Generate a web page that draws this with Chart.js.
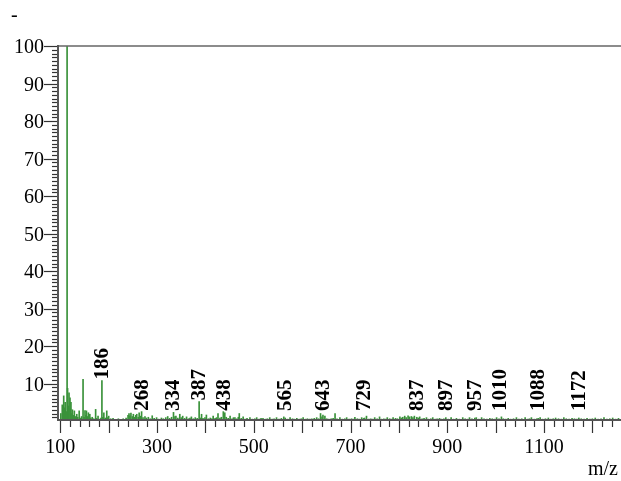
<!DOCTYPE html>
<html><head><meta charset="utf-8">
<script src="https://cdn.jsdelivr.net/npm/chart.js@4"></script>
<style>html,body{margin:0;padding:0;background:#fff}#wrap{width:621px;height:481px;position:relative}</style>
</head><body><div id="wrap"><canvas id="c" width="621" height="481"></canvas></div>
<script>
const mz = [
 101,104,106,107,109,110,112,114,115,117,
 118,120,121,122,124,125,127,129,131,134,
 136,139,141,144,147,149,151,153,154,156,
 158,161,163,166,169,173,175,178,181,184,
 186,188,190,193,196,198,200,204,209,214,
 220,226,230,236,240,242,244,246,249,251,
 254,256,258,261,263,266,268,271,275,278,
 282,286,290,294,299,303,309,313,318,322,
 326,330,334,337,339,343,347,350,353,357,
 361,365,368,371,375,379,383,387,390,392,
 395,399,402,406,410,413,416,420,423,426,
 430,433,437,440,443,447,451,455,458,461,
 465,468,470,474,478,482,486,492,497,502,
 506,511,515,519,524,528,533,538,542,547,
 552,557,562,565,570,575,580,584,589,594,
 598,602,607,611,616,620,625,630,634,638,
 641,643,647,651,655,660,664,668,672,678,
 683,688,692,697,702,706,709,714,718,723,
 727,729,733,738,742,746,750,755,760,764,
 769,773,776,781,785,788,793,797,802,805,
 808,812,815,819,822,826,829,832,837,840,
 843,848,852,857,861,866,870,875,879,884,
 888,893,897,902,908,913,919,925,932,937,
 942,946,951,957,960,965,971,976,982,988,
 993,998,1002,1007,1012,1016,1021,1026,1031,1037,
 1043,1048,1054,1061,1066,1070,1074,1080,1085,1088,
 1092,1097,1103,1109,1114,1119,1124,1130,1136,1141,
 1146,1152,1158,1163,1168,1172,1177,1183,1189,1195,
 1200,1206,1212,1218,1224,1230,1236,1242,1248,1254
];
const intensity = [
 2.0,4.3,3.0,6.7,3.5,5.0,2.5,100,8.7,4.0,
 7.5,6.2,3.2,5.0,2.0,3.0,1.5,2.7,1.2,1.8,
 1.0,2.7,0.8,1.2,11.1,1.0,2.8,1.5,2.7,1.2,
 2.2,1.8,0.8,1.0,0.6,3.1,0.7,1.3,0.5,0.8,
 10.8,1.0,2.2,0.8,2.7,0.9,1.3,0.6,0.7,0.4,
 0.6,0.4,0.6,0.8,1.5,2.0,1.4,2.1,1.2,1.8,
 1.0,1.5,1.8,1.0,2.2,1.3,2.5,0.9,1.2,0.8,
 1.0,0.6,1.4,0.7,0.9,0.5,0.8,0.6,0.9,1.2,
 0.7,1.0,2.3,1.2,1.3,0.8,1.8,0.9,1.3,0.7,
 1.1,0.6,0.8,1.1,0.6,0.9,0.7,5.2,0.8,1.8,
 0.7,0.9,1.6,0.6,0.8,0.6,1.3,0.7,0.9,2.0,
 0.8,1.0,2.5,2.2,1.0,0.7,1.3,0.6,0.9,0.9,
 0.6,1.0,2.0,0.7,1.1,0.5,0.7,0.9,0.5,0.6,
 0.9,0.5,0.7,0.7,0.5,0.6,0.9,0.5,0.6,0.9,
 0.5,0.7,1.1,0.8,0.5,0.9,0.6,0.5,0.7,0.5,
 0.6,0.9,0.5,0.6,0.5,0.6,0.7,0.9,0.6,2.0,
 1.1,1.6,1.3,0.6,0.5,0.6,0.7,2.0,0.6,0.9,
 0.5,0.6,0.9,0.5,0.6,0.5,1.0,0.6,0.5,0.9,
 0.7,0.8,1.3,0.5,0.6,0.5,0.9,0.6,1.1,0.5,
 0.6,0.5,0.9,0.6,0.5,0.9,0.7,0.6,1.1,0.8,
 1.0,1.3,0.9,1.4,1.1,1.2,0.9,1.3,1.0,0.8,
 1.1,0.6,0.7,0.9,0.5,0.6,0.9,0.5,0.6,0.7,
 0.5,0.6,0.9,0.5,0.9,0.5,0.7,0.5,0.9,0.6,
 0.5,0.9,0.6,0.8,0.9,0.5,0.9,0.6,0.5,0.7,
 0.6,0.5,0.9,0.6,1.1,0.6,0.5,0.7,0.5,0.6,
 0.9,0.5,0.6,0.9,0.5,0.6,0.9,0.5,0.6,0.7,
 0.9,0.5,0.6,0.8,0.5,0.6,0.8,0.6,0.5,0.9,
 0.6,0.5,0.7,0.6,0.5,0.8,0.6,0.5,0.7,0.5,
 0.6,0.8,0.5,0.6,0.9,0.5,0.6,0.8,0.5,0.7
];
const peakLabels = [186,268,334,387,438,565,643,729,837,897,957,1010,1088,1172];
const yTickLabels = [10,20,30,40,50,60,70,80,90,100];
const xTickLabels = [100,300,500,700,900,1100];
const xAxisTitle = 'm/z';
const cornerMark = '-';

const X_MIN = 95.2, X_MAX = 1259.2;
const FONT = '"Liberation Serif", "Times New Roman", serif';

const axesPlugin = {
  id: 'msAxes',
  afterDatasetsDraw(chart) {
    const ctx = chart.ctx, xs = chart.scales.x, ys = chart.scales.y, a = chart.chartArea;
    ctx.save();
    ctx.strokeStyle = '#666';
    ctx.lineWidth = 1.6;
    ctx.beginPath(); ctx.moveTo(a.left, a.top); ctx.lineTo(621, a.top); ctx.stroke();
    ctx.strokeStyle = '#555';
    ctx.lineWidth = 2;
    ctx.beginPath(); ctx.moveTo(a.left, a.top - 1); ctx.lineTo(a.left, a.bottom); ctx.stroke();
    ctx.beginPath(); ctx.moveTo(a.left - 1, a.bottom - 1); ctx.lineTo(621, a.bottom - 1); ctx.stroke();
    ctx.strokeStyle = '#333';
    ctx.lineWidth = 1.2;
    for (let v = 1; v <= 100; v++) {
      const py = Math.round(ys.getPixelForValue(v)) + 0.5;
      const len = (v % 10 === 0) ? 13 : 5;
      ctx.beginPath(); ctx.moveTo(a.left - 1 - len, py); ctx.lineTo(a.left - 1, py); ctx.stroke();
    }
    for (let v = 100; v <= X_MAX; v += 20) {
      const px = Math.round(xs.getPixelForValue(v)) + 0.5;
      const len = (v % 100 === 0) ? 12 : 6;
      ctx.beginPath(); ctx.moveTo(px, a.bottom); ctx.lineTo(px, a.bottom + len); ctx.stroke();
    }
    ctx.fillStyle = '#000';
    ctx.font = '20px ' + FONT;
    ctx.textAlign = 'right'; ctx.textBaseline = 'alphabetic';
    yTickLabels.forEach(v => {
      ctx.fillText(String(v), 44, ys.getPixelForValue(v) + 7);
    });
    ctx.textAlign = 'center';
    xTickLabels.forEach(v => {
      ctx.fillText(String(v), xs.getPixelForValue(v), 453);
    });
    ctx.textAlign = 'right';
    ctx.fillText(xAxisTitle, 618, 475);
    ctx.textAlign = 'left';
    ctx.fillText(cornerMark, 11, 21);
    ctx.font = 'bold 21px ' + FONT;
    ctx.textAlign = 'left'; ctx.textBaseline = 'middle';
    peakLabels.forEach(m => {
      let best = 0;
      mz.forEach((q, i) => { if (Math.abs(q - m) <= 2 && intensity[i] > best) best = intensity[i]; });
      const top = Math.min(ys.getPixelForValue(best), ys.getPixelForValue(2.4)) - 1;
      ctx.save();
      ctx.translate(xs.getPixelForValue(m) + 0.5, top);
      ctx.rotate(-Math.PI / 2);
      ctx.fillText(String(m), 0, 0);
      ctx.restore();
    });
    ctx.restore();
  }
};

new Chart(document.getElementById('c'), {
  type: 'bar',
  data: {
    datasets: [{
      data: mz.map((m, i) => ({ x: m, y: intensity[i] })),
      backgroundColor: '#3a923a',
      borderWidth: 0,
      barThickness: 1,
      grouped: false
    }]
  },
  options: {
    responsive: false,
    animation: false,
    layout: { padding: { left: 58, top: 46, right: 0, bottom: 60 } },
    plugins: { legend: { display: false }, tooltip: { enabled: false }, title: { display: false } },
    scales: {
      x: { type: 'linear', min: X_MIN, max: X_MAX, display: false, offset: false, grid: { offset: false } },
      y: { type: 'linear', min: 0, max: 100, display: false }
    }
  },
  plugins: [axesPlugin]
});
</script>
</body></html>
